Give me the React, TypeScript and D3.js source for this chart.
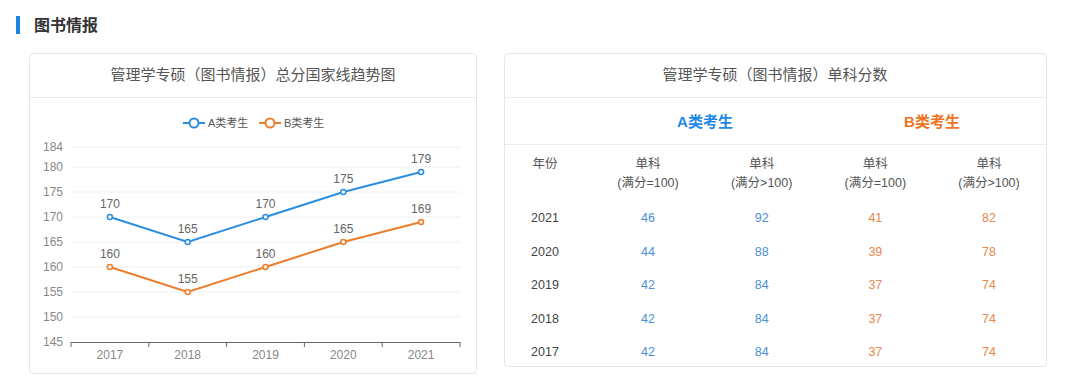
import * as d3 from "d3";

const years = ["2017", "2018", "2019", "2020", "2021"];
const aTotal = [170, 165, 170, 175, 179];
const bTotal = [160, 155, 160, 165, 169];
const yTicks = [145, 150, 155, 160, 165, 170, 175, 180, 184];

const tableYears = ["2021", "2020", "2019", "2018", "2017"];
const a100 = [46, 44, 42, 42, 42];
const aOver = [92, 88, 84, 84, 84];
const b100 = [41, 39, 37, 37, 37];
const bOver = [82, 78, 74, 74, 74];
const colHeads = ["(满分=100)", "(满分>100)", "(满分=100)", "(满分>100)"];

const BLUE = "#2b8ee0";
const ORANGE = "#ec7d2c";
const FONT = "'Liberation Sans', 'Noto Sans CJK SC', sans-serif";

export default function App() {
  const x = d3.scaleBand<string>().domain(years).range([71, 460]);
  const y = d3.scaleLinear().domain([145, 184]).range([342, 147]);
  const cx = (d: string) => (x(d) ?? 0) + x.bandwidth() / 2;
  const line = d3
    .line<number>()
    .x((_, i) => cx(years[i]))
    .y((d) => y(d));

  const series = [
    { name: "A类考生", values: aTotal, color: BLUE },
    { name: "B类考生", values: bTotal, color: ORANGE },
  ];

  const colX = d3.scalePoint<number>().domain([0, 1, 2, 3]).range([648, 989]);
  const rowY = d3.scalePoint<string>().domain(tableYears).range([217, 351]);
  const tableCols = [
    { values: a100, color: "#4a90d6" },
    { values: aOver, color: "#4a90d6" },
    { values: b100, color: "#e8884a" },
    { values: bOver, color: "#e8884a" },
  ];

  return (
    <svg
      width={1080}
      height={390}
      style={{ position: "absolute", left: 0, top: 0, fontFamily: FONT }}
    >
      <rect width={1080} height={390} fill="#fff" />
      {/* section heading */}
      <rect x={16} y={16} width={4} height={18} fill="#1a88e0" />
      <text x={34} y={31} fontSize={16} fontWeight="bold" fill="#333">
        图书情报
      </text>

      {/* left card */}
      <rect x={29.5} y={53.5} width={447} height={320} rx={4} fill="#fff" stroke="#e6e6e6" />
      <line x1={30} x2={476} y1={97.5} y2={97.5} stroke="#ececec" />
      <text x={253} y={80} fontSize={15} fill="#555" textAnchor="middle">
        管理学专硕（图书情报）总分国家线趋势图
      </text>

      {/* legend */}
      {series.map((s, i) => {
        const lx = 183 + i * 76;
        return (
          <g key={s.name}>
            <line x1={lx} x2={lx + 22} y1={123} y2={123} stroke={s.color} strokeWidth={2} />
            <circle cx={lx + 11} cy={123} r={4.5} fill="#fff" stroke={s.color} strokeWidth={2} />
            <text x={lx + 25} y={127} fontSize={11} fill="#555">
              {s.name}
            </text>
          </g>
        );
      })}

      {/* grid and y labels */}
      {yTicks.map((t) => (
        <g key={t}>
          {t !== 145 && (
            <line x1={71} x2={460} y1={y(t)} y2={y(t)} stroke="#f0f0f0" />
          )}
          <text x={63} y={y(t) + 4} fontSize={12} fill="#888" textAnchor="end">
            {t}
          </text>
        </g>
      ))}

      {/* x axis */}
      <line x1={71} x2={460} y1={342.5} y2={342.5} stroke="#666" />
      {[...years.map((d) => x(d) ?? 0), 460].map((tx, i) => (
        <line key={i} x1={tx} x2={tx} y1={342} y2={347} stroke="#666" />
      ))}
      {years.map((d) => (
        <text key={d} x={cx(d)} y={359} fontSize={12} fill="#888" textAnchor="middle">
          {d}
        </text>
      ))}

      {/* lines */}
      {series.map((s) => (
        <g key={s.name}>
          <path d={line(s.values) ?? ""} fill="none" stroke={s.color} strokeWidth={2} />
          {s.values.map((v, i) => (
            <g key={i}>
              <circle cx={cx(years[i])} cy={y(v)} r={2.5} fill="#fff" stroke={s.color} strokeWidth={1.5} />
              <text x={cx(years[i])} y={y(v) - 9} fontSize={12} fill="#666" textAnchor="middle">
                {v}
              </text>
            </g>
          ))}
        </g>
      ))}

      {/* right card */}
      <rect x={504.5} y={53.5} width={542} height={313} rx={4} fill="#fff" stroke="#e6e6e6" />
      <line x1={505} x2={1046} y1={97.5} y2={97.5} stroke="#ececec" />
      <line x1={505} x2={1046} y1={144.5} y2={144.5} stroke="#ececec" />
      <text x={775} y={80} fontSize={15} fill="#555" textAnchor="middle">
        管理学专硕（图书情报）单科分数
      </text>
      <text x={705} y={127} fontSize={15} fontWeight="bold" fill="#1e88e5" textAnchor="middle">
        A类考生
      </text>
      <text x={932} y={127} fontSize={15} fontWeight="bold" fill="#f07424" textAnchor="middle">
        B类考生
      </text>

      <text x={545} y={168} fontSize={12.5} fill="#555" textAnchor="middle">
        年份
      </text>
      {colHeads.map((h, i) => (
        <g key={i}>
          <text x={colX(i)} y={168} fontSize={12.5} fill="#555" textAnchor="middle">
            单科
          </text>
          <text x={colX(i)} y={187} fontSize={12.5} fill="#555" textAnchor="middle">
            {h}
          </text>
        </g>
      ))}

      {tableYears.map((yr, r) => (
        <g key={yr}>
          <text x={545} y={(rowY(yr) ?? 0) + 5} fontSize={12.5} fill="#444" textAnchor="middle">
            {yr}
          </text>
          {tableCols.map((c, i) => (
            <text
              key={i}
              x={colX(i)}
              y={(rowY(yr) ?? 0) + 5}
              fontSize={12.5}
              fill={c.color}
              textAnchor="middle"
            >
              {c.values[r]}
            </text>
          ))}
        </g>
      ))}
    </svg>
  );
}
